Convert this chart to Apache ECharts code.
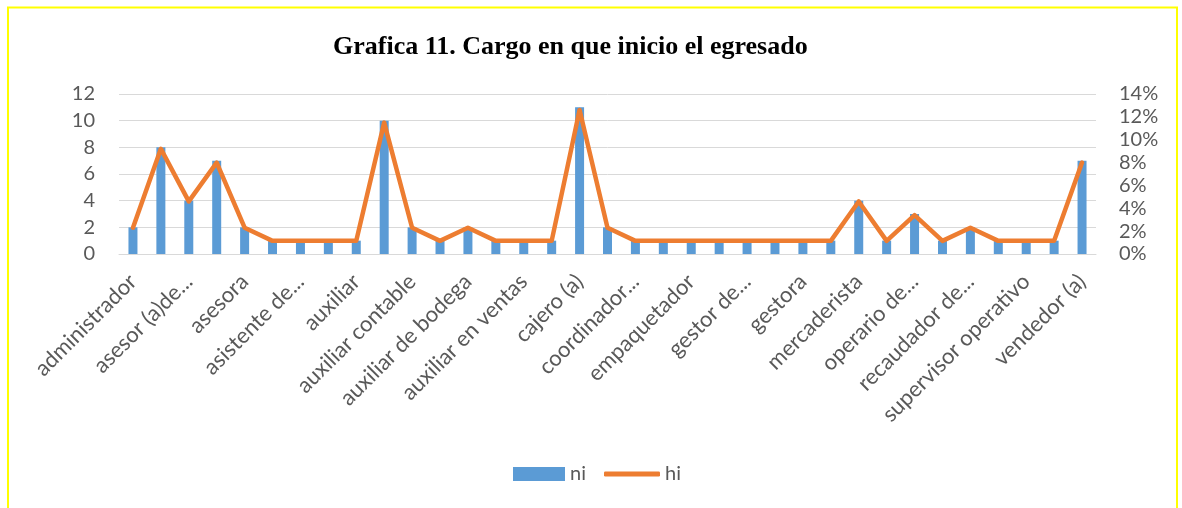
<!DOCTYPE html>
<html>
<head>
<meta charset="utf-8">
<script src="https://cdn.jsdelivr.net/npm/echarts@6/dist/echarts.min.js"></script>
<style>
  html, body { margin: 0; padding: 0; background: #fff; }
  #chart { width: 1182px; height: 508px; }
</style>
</head>
<body>
<div id="chart"></div>
<script>
// categorias (solo las pares se ven en el eje)
const cargos = [
  'administrador', 'analista', 'asesor (a)de...', 'asesor comercial', 'asesora',
  'asistente', 'asistente de...', 'atención al cliente', 'auxiliar', 'auxiliar administrativo',
  'auxiliar contable', 'auxiliar de archivo', 'auxiliar de bodega', 'auxiliar de oficina', 'auxiliar en ventas',
  'cajero', 'cajero (a)', 'contador', 'coordinador...', 'digitador',
  'empaquetador', 'gestor comercial', 'gestor de...', 'gestor de servicio', 'gestora',
  'jefe de ventas', 'mercaderista', 'mesero', 'operario de...', 'promotor',
  'recaudador de...', 'recepcionista', 'supervisor operativo', 'tecnico', 'vendedor (a)'
];
// ni: frecuencia absoluta
const ni = [
  2, 8, 4, 7, 2,
  1, 1, 1, 1, 10,
  2, 1, 2, 1, 1,
  1, 11, 2, 1, 1,
  1, 1, 1, 1, 1,
  1, 4, 1, 3, 1,
  2, 1, 1, 1, 7
];
// hi: frecuencia relativa
const hi = [
  0.023, 0.092, 0.046, 0.080, 0.023,
  0.0115, 0.0115, 0.0115, 0.0115, 0.115,
  0.023, 0.0115, 0.023, 0.0115, 0.0115,
  0.0115, 0.126, 0.023, 0.0115, 0.0115,
  0.0115, 0.0115, 0.0115, 0.0115, 0.0115,
  0.0115, 0.046, 0.0115, 0.034, 0.0115,
  0.023, 0.0115, 0.0115, 0.0115, 0.080
];

const gris = '#595959';
const lineaGrid = '#d9d9d9';
const azul = '#5b9bd5';
const naranja = '#ed7d31';

let myChart = echarts.init(document.getElementById('chart'));

let option = {
  animation: false,
  title: {
    text: 'Grafica 11. Cargo en que inicio el egresado',
    left: 328,
    top: 29,
    textStyle: {
      fontFamily: 'Liberation Serif',
      fontWeight: 'bold',
      fontSize: 26,
      color: '#000'
    }
  },
  graphic: [{
    type: 'polyline',
    shape: { points: [[8, 508], [8, 7.5], [1177, 7.5], [1177, 508]] },
    style: { stroke: '#ffff00', lineWidth: 2, fill: null },
    silent: true
  }],
  legend: [{
    left: 513,
    top: 464,
    padding: 0,
    itemWidth: 52,
    itemHeight: 14,
    textStyle: { fontFamily: 'Lato', fontSize: 20, color: gris },
    data: [{ name: 'ni', icon: 'rect' }]
  }, {
    left: 604,
    top: 464,
    padding: 0,
    itemWidth: 56,
    itemHeight: 5,
    textStyle: { fontFamily: 'Lato', fontSize: 20, color: gris },
    data: [{ name: 'hi', icon: 'roundRect', itemStyle: { color: naranja } }]
  }],
  grid: {
    left: 119,
    right: 86,
    top: 94,
    bottom: 254,
    containLabel: false
  },
  xAxis: {
    type: 'category',
    data: cargos,
    axisTick: { show: false },
    axisLine: { lineStyle: { color: lineaGrid, width: 1 } },
    axisLabel: {
      interval: 1,
      rotate: 45,
      margin: 24,
      fontFamily: 'Lato',
      fontSize: 22,
      color: gris
    }
  },
  yAxis: [{
    type: 'value',
    min: 0,
    max: 12,
    interval: 2,
    axisLine: { show: false },
    axisTick: { show: false },
    splitLine: { lineStyle: { color: lineaGrid, width: 1 } },
    axisLabel: { margin: 24, fontFamily: 'Lato', fontSize: 20, color: gris }
  }, {
    type: 'value',
    min: 0,
    max: 0.14,
    interval: 0.02,
    axisLine: { show: false },
    axisTick: { show: false },
    splitLine: { show: false },
    axisLabel: {
      margin: 23,
      fontFamily: 'Lato',
      fontSize: 20,
      color: gris,
      formatter: function (v) { return Math.round(v * 100) + '%'; }
    }
  }],
  series: [{
    name: 'ni',
    type: 'bar',
    data: ni,
    barWidth: 9,
    itemStyle: { color: azul }
  }, {
    name: 'hi',
    type: 'line',
    yAxisIndex: 1,
    data: hi,
    symbol: 'none',
    lineStyle: { color: naranja, width: 4.5, join: 'round', cap: 'round' },
    itemStyle: { color: naranja }
  }]
};

myChart.setOption(option);
</script>
</body>
</html>
